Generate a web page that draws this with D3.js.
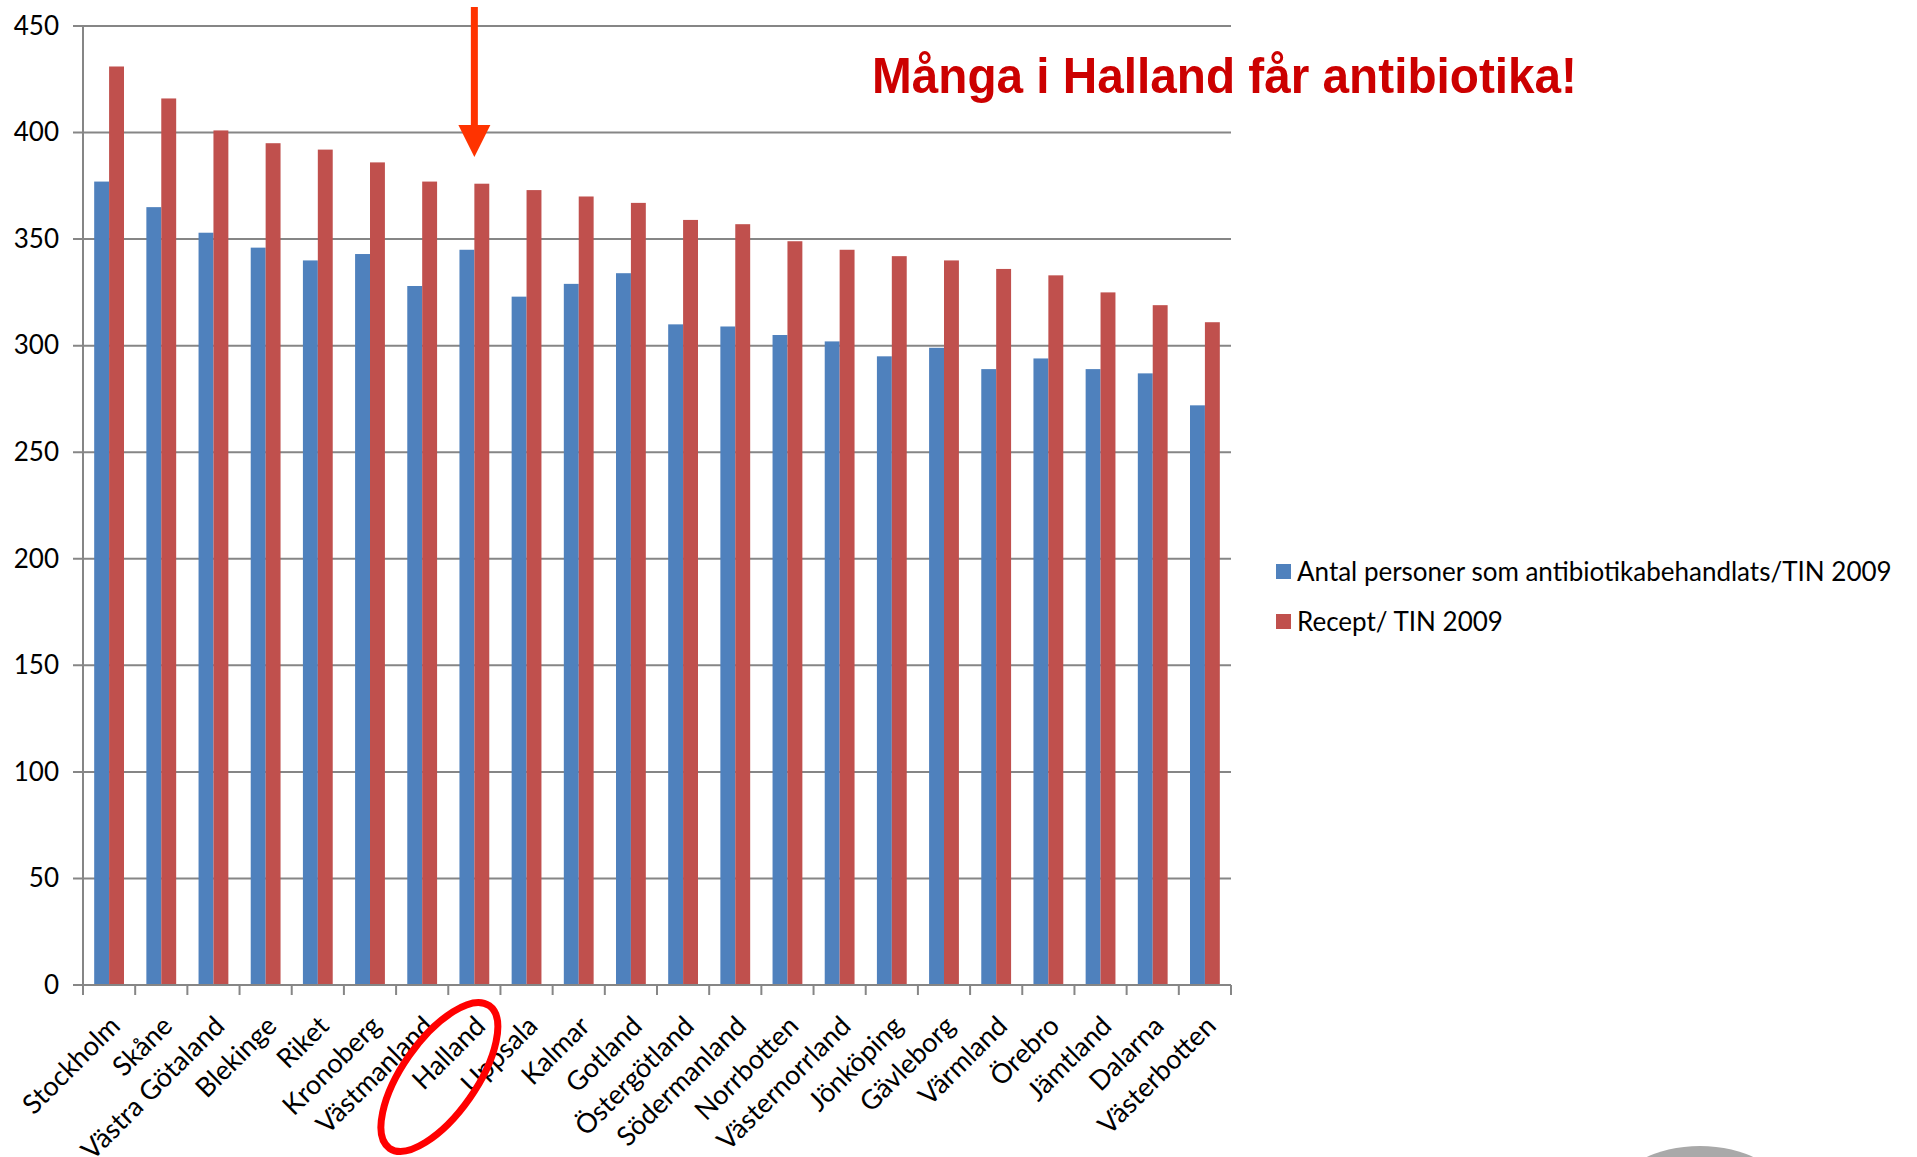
<!DOCTYPE html>
<html>
<head>
<meta charset="utf-8">
<script src="https://cdn.jsdelivr.net/npm/d3@7"></script>
<style>
  body { margin: 0; background: #fff; }
  .axis text { font-family: Lato, 'Open Sans', sans-serif; fill: #000; }
  .legend text { font-family: Lato, 'Open Sans', sans-serif; fill: #000; }
</style>
</head>
<body>
<svg id="chart" width="1917" height="1157"></svg>
<script>
const categories = [
  'Stockholm', 'Skåne', 'Västra Götaland', 'Blekinge', 'Riket', 'Kronoberg',
  'Västmanland', 'Halland', 'Uppsala', 'Kalmar', 'Gotland', 'Östergötland',
  'Södermanland', 'Norrbotten', 'Västernorrland', 'Jönköping', 'Gävleborg',
  'Värmland', 'Örebro', 'Jämtland', 'Dalarna', 'Västerbotten'
];
const antalPersoner = [377, 365, 353, 346, 340, 343, 328, 345, 323, 329, 334, 310, 309, 305, 302, 295, 299, 289, 294, 289, 287, 272];
const recept = [431, 416, 401, 395, 392, 386, 377, 376, 373, 370, 367, 359, 357, 349, 345, 342, 340, 336, 333, 325, 319, 311];
const seriesNames = ['Antal personer som antibiotikabehandlats/TIN 2009', 'Recept/ TIN 2009'];
const seriesColors = ['#4F81BD', '#C0504D'];
const yTicks = [0, 50, 100, 150, 200, 250, 300, 350, 400, 450];
const title = 'Många i Halland får antibiotika!';
const highlight = 'Halland';

const margin = { top: 26, left: 83 };
const width = 1148;
const height = 959;
const gridColor = '#868686';

const svg = d3.select('#chart');
const root = svg.append('g').attr('transform', `translate(${margin.left}, ${margin.top})`);

const x0 = d3.scaleBand().domain(categories).range([0, width]);
const x1 = d3.scaleBand().domain([0, 1]).range([0, x0.bandwidth()]).paddingOuter(0.75);
const y = d3.scaleLinear().domain([0, 450]).range([height, 0]);

// horizontal gridlines (with the little tick to the left of the axis)
root.append('g')
  .attr('class', 'grid')
  .selectAll('line')
  .data(yTicks)
  .join('line')
  .attr('x1', -10)
  .attr('x2', width)
  .attr('y1', d => y(d))
  .attr('y2', d => y(d))
  .attr('stroke', gridColor)
  .attr('stroke-width', 2);

// y axis labels
root.append('g')
  .attr('class', 'axis')
  .call(d3.axisLeft(y).tickValues(yTicks).tickSize(10).tickPadding(14))
  .call(g => g.select('.domain').remove())
  .call(g => g.selectAll('line').remove())
  .call(g => g.selectAll('text').attr('font-size', 26));

// bars
const groups = root.append('g')
  .selectAll('g')
  .data(categories)
  .join('g')
  .attr('transform', d => `translate(${x0(d)}, 0)`);

groups.selectAll('rect')
  .data((d, i) => [antalPersoner[i], recept[i]])
  .join('rect')
  .attr('x', (d, i) => x1(i))
  .attr('width', x1.bandwidth())
  .attr('y', d => y(d))
  .attr('height', d => height - y(d))
  .attr('fill', (d, i) => seriesColors[i]);

// axes lines
root.append('line')
  .attr('x1', 0).attr('x2', 0)
  .attr('y1', y(450)).attr('y2', height + 10)
  .attr('stroke', gridColor).attr('stroke-width', 2);

root.append('line')
  .attr('x1', 0).attr('x2', width)
  .attr('y1', height).attr('y2', height)
  .attr('stroke', gridColor).attr('stroke-width', 2);

// x ticks sit between categories, Excel style
root.append('g')
  .selectAll('line')
  .data(categories.map(c => x0(c)).concat([width]))
  .join('line')
  .attr('x1', d => d).attr('x2', d => d)
  .attr('y1', height).attr('y2', height + 10)
  .attr('stroke', gridColor).attr('stroke-width', 2);

// rotated category labels
root.append('g')
  .attr('class', 'axis')
  .selectAll('text')
  .data(categories)
  .join('text')
  .attr('transform', d => `translate(${x0(d) + x0.bandwidth() / 2 + 6}, ${height + 36}) rotate(-45)`)
  .attr('text-anchor', 'end')
  .attr('dy', '0.35em')
  .attr('font-size', 27)
  .text(d => d);

// legend
const legend = svg.append('g')
  .attr('class', 'legend')
  .attr('transform', 'translate(1276, 564)')
  .selectAll('g')
  .data(seriesNames)
  .join('g')
  .attr('transform', (d, i) => `translate(0, ${i * 50})`);

legend.append('rect')
  .attr('width', 15)
  .attr('height', 15)
  .attr('fill', (d, i) => seriesColors[i]);

legend.append('text')
  .attr('x', 21)
  .attr('y', 17)
  .attr('font-size', 26)
  .text(d => d);

// annotations
svg.append('text')
  .attr('x', 872)
  .attr('y', 93)
  .attr('font-family', "'Liberation Sans', Arial, sans-serif")
  .attr('font-weight', 'bold')
  .attr('font-size', 50)
  .attr('fill', '#CC0000')
  .attr('textLength', 705)
  .attr('lengthAdjust', 'spacingAndGlyphs')
  .text(title);

const hx = margin.left + x0(highlight) + x0.bandwidth() / 2;

svg.append('line')
  .attr('x1', hx).attr('x2', hx)
  .attr('y1', 7).attr('y2', 128)
  .attr('stroke', '#FF3300')
  .attr('stroke-width', 7);

svg.append('path')
  .attr('d', `M${hx - 16},125 L${hx + 16},125 L${hx},157 Z`)
  .attr('fill', '#FF3300');

svg.append('ellipse')
  .attr('transform', `translate(${hx - 35}, ${margin.top + height + 92}) rotate(-55)`)
  .attr('rx', 87)
  .attr('ry', 37)
  .attr('fill', 'none')
  .attr('stroke', '#FF0000')
  .attr('stroke-width', 7);

// bit of a logo peeking in at the bottom right
svg.append('ellipse')
  .attr('cx', 1700)
  .attr('cy', 1192)
  .attr('rx', 82)
  .attr('ry', 46)
  .attr('fill', '#a9a9a9');
</script>
</body>
</html>
